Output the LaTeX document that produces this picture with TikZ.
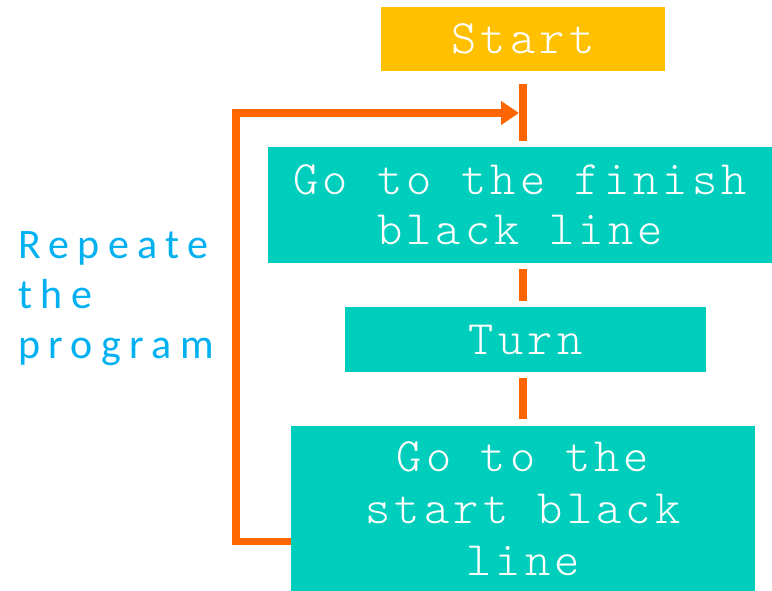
\documentclass[tikz,border=0pt]{standalone}
\usepackage{fontspec}
\usetikzlibrary{arrows.meta}
\newfontfamily\boxfont[LetterSpace=8.8]{Latin Modern Mono Light}
\newfontfamily\notefont[LetterSpace=20]{Carlito}
\definecolor{startgold}{HTML}{FFC000}
\definecolor{stepteal}{HTML}{00CEBC}
\definecolor{flowor}{HTML}{FF6600}
\definecolor{noteblue}{HTML}{00B0F0}
\begin{document}
\begin{tikzpicture}[x=1pt,y=-1pt,
  stepbox/.style={rectangle, inner sep=0pt, align=center, text=white,
    font={\boxfont\fontsize{48}{50}\selectfont}},
  flow/.style={draw=flowor, line width=8pt},
  loopline/.style={draw=flowor, line width=7.5pt, line join=miter}]
  \useasboundingbox (0,0) rectangle (772,591);

  % process steps
  \node[stepbox, fill=startgold, minimum width=284pt, minimum height=64pt]
    (start) at (523,39) {Start};
  \node[stepbox, fill=stepteal, minimum width=504pt, minimum height=116pt]
    (finish) at (520,205) {Go to the finish\\black line};
  \node[stepbox, fill=stepteal, minimum width=361pt, minimum height=65pt]
    (turn) at (525.5,339.5) {Turn};
  \node[stepbox, fill=stepteal, minimum width=464pt, minimum height=165pt,
    font={\boxfont\fontsize{48}{52}\selectfont}]
    (back) at (523,508.5) {Go to the\\start black\\line};

  % connectors between the steps
  \draw[flow, shorten <=13pt, shorten >=6pt] (start.south) -- (start.south |- finish.north);
  \draw[flow, shorten <=6pt, shorten >=6pt] (start.south |- finish.south) -- (start.south |- turn.north);
  \draw[flow, shorten <=6pt, shorten >=7pt] (start.south |- turn.south) -- (start.south |- back.north);

  % loop back to the top
  \coordinate (join) at (519,113);
  \coordinate (bend) at (236,113);
  \draw[loopline, -{Triangle[length=18pt,width=23pt]}]
    ([yshift=-33pt]back.west) -- ([yshift=-33pt]back.west -| bend) -- (bend) -- (join);

  % note beside the loop
  \node[anchor=base west, inner sep=0pt, align=left, text=noteblue,
    font={\notefont\fontsize{42}{50}\selectfont}] (note) at (18,358)
    {Repeate\\the\\program};
\end{tikzpicture}
\end{document}
